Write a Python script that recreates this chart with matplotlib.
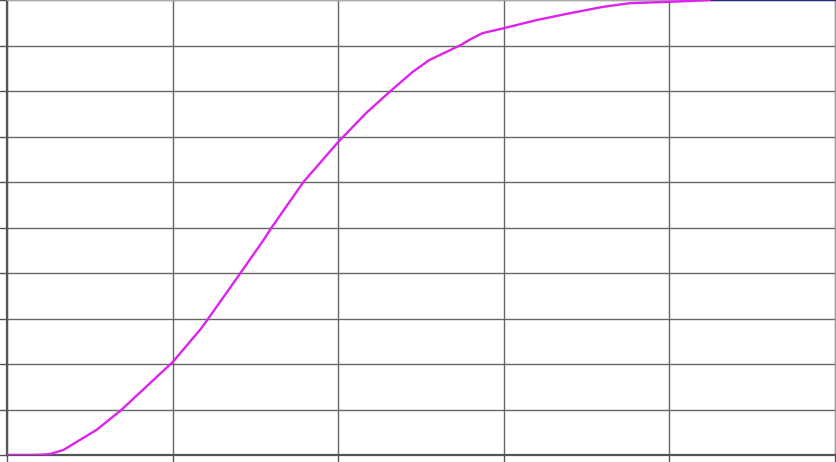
import matplotlib
matplotlib.use("Agg")
import matplotlib.pyplot as plt

# values (x in grid units 0..5, y in percent)
x_curve = [0.00, 0.14, 0.20, 0.26, 0.34, 0.44, 0.54, 0.69, 0.82, 1.00, 1.17,
           1.21, 1.41, 1.55, 1.60, 1.79, 2.00, 2.17, 2.31, 2.45, 2.55, 2.74,
           2.80, 2.87, 3.00, 3.20, 3.40, 3.60, 3.76, 4.00, 4.26]
y_curve = [0.0, 0.0, 0.05, 0.2, 1.1, 3.3, 5.5, 9.9, 14.3, 20.4, 27.7,
           29.7, 40.0, 47.3, 50.1, 60.0, 68.8, 75.2, 79.8, 84.2, 86.8, 90.1,
           91.4, 92.7, 93.8, 95.6, 97.1, 98.5, 99.3, 99.6, 100.0]
x_top = [4.26, 5.0]
y_top = [100.0, 100.0]

fig = plt.figure(figsize=(8.36, 4.62), dpi=100)
ax = fig.add_axes([7 / 836, 7 / 462, 828 / 836, 455 / 462])

ax.plot(x_curve, y_curve, color="#dd22ee", lw=1.7, zorder=3)
ax.plot(x_top, y_top, color="#262c80", lw=1.6, zorder=3, clip_on=False)

ax.set_xlim(0, 5)
ax.set_ylim(0, 100)
ax.set_xticks(range(0, 6))
ax.set_yticks(range(0, 101, 10))
ax.set_xticklabels([])
ax.set_yticklabels([])
ax.grid(True, color="#666666", lw=1.0)
ax.set_axisbelow(True)
ax.tick_params(direction="out", length=6, width=1, color="#555555")

for side in ("left", "bottom"):
    ax.spines[side].set_color("#555555")
    ax.spines[side].set_linewidth(1.6)
ax.spines["top"].set_color("#aaaaaa")
ax.spines["right"].set_color("#999999")

fig.savefig("out.png", dpi=100)
